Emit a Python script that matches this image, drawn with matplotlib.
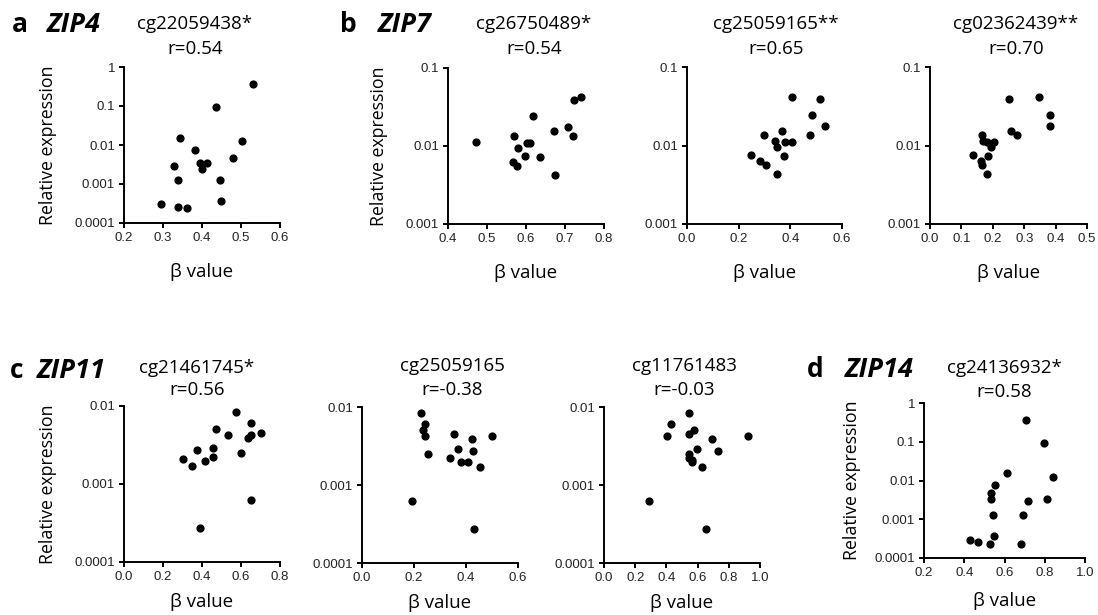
import matplotlib
matplotlib.use("Agg")
import matplotlib.pyplot as plt
from matplotlib.ticker import NullLocator

W, H = 1098, 615
TXT = ['Open Sans', 'DejaVu Sans']
TICK = ['Liberation Sans', 'DejaVu Sans']

# a  ZIP4  cg22059438*
zip4_beta = [0.531, 0.436, 0.344, 0.503, 0.382, 0.480, 0.329, 0.394,
             0.412, 0.400, 0.339, 0.447, 0.449, 0.296, 0.339, 0.362]
zip4_expr = [0.37, 0.092, 0.015, 0.0124, 0.0076, 0.0047, 0.0029, 0.0034,
             0.0034, 0.0024, 0.00126, 0.00126, 0.00037, 0.0003, 0.00026, 0.00024]

# b  ZIP7  cg26750489*
zip7a_beta = [0.472, 0.568, 0.580, 0.566, 0.576, 0.597, 0.602, 0.609,
              0.617, 0.635, 0.671, 0.674, 0.708, 0.721, 0.723, 0.742]
zip7a_expr = [0.0113, 0.0136, 0.0095, 0.0063, 0.0056, 0.0074, 0.011, 0.011,
              0.024, 0.0073, 0.0155, 0.0043, 0.0176, 0.0135, 0.039, 0.042]

# b  ZIP7  cg25059165**
zip7b_beta = [0.247, 0.284, 0.305, 0.299, 0.340, 0.349, 0.349, 0.366,
              0.376, 0.380, 0.407, 0.405, 0.476, 0.484, 0.516, 0.535]
zip7b_expr = [0.0075, 0.0063, 0.0056, 0.0136, 0.0115, 0.0095, 0.0043, 0.0155,
              0.0073, 0.011, 0.011, 0.042, 0.0135, 0.0243, 0.039, 0.0176]

# b  ZIP7  cg02362439**
zip7c_beta = [0.136, 0.165, 0.168, 0.181, 0.194, 0.203, 0.162, 0.167,
              0.186, 0.183, 0.253, 0.259, 0.276, 0.347, 0.383, 0.381]
zip7c_expr = [0.0075, 0.0136, 0.0115, 0.011, 0.0095, 0.011, 0.0063, 0.0056,
              0.0073, 0.0043, 0.039, 0.0155, 0.0135, 0.042, 0.0243, 0.0176]

# c  ZIP11  cg21461745*
zip11a_beta = [0.572, 0.651, 0.702, 0.651, 0.637, 0.531, 0.471, 0.454,
               0.457, 0.416, 0.373, 0.300, 0.349, 0.600, 0.649, 0.389]
zip11a_expr = [0.0083, 0.0061, 0.0045, 0.0043, 0.0039, 0.0043, 0.0050, 0.0029,
               0.0022, 0.0020, 0.0027, 0.0021, 0.0017, 0.0025, 0.00062, 0.00027]

# c  ZIP11  cg25059165
zip11b_beta = [0.225, 0.243, 0.235, 0.243, 0.255, 0.352, 0.423, 0.500,
               0.368, 0.427, 0.339, 0.380, 0.406, 0.452, 0.193, 0.430]
zip11b_expr = [0.0083, 0.0061, 0.0050, 0.0043, 0.0025, 0.0045, 0.0039, 0.0043,
               0.0029, 0.0027, 0.0022, 0.0020, 0.0020, 0.0017, 0.00062, 0.00027]

# c  ZIP11  cg11761483
zip11c_beta = [0.548, 0.428, 0.405, 0.546, 0.576, 0.694, 0.921, 0.593,
               0.730, 0.542, 0.546, 0.561, 0.567, 0.625, 0.291, 0.651]
zip11c_expr = [0.0083, 0.0061, 0.0043, 0.0045, 0.0050, 0.0039, 0.0043, 0.0029,
               0.0027, 0.0025, 0.0022, 0.0021, 0.0020, 0.0017, 0.00062, 0.00027]

# d  ZIP14  cg24136932*
zip14_beta = [0.705, 0.798, 0.611, 0.841, 0.554, 0.531, 0.531, 0.811,
              0.717, 0.541, 0.693, 0.429, 0.470, 0.549, 0.528, 0.680]
zip14_expr = [0.37, 0.094, 0.0155, 0.0125, 0.0077, 0.0048, 0.0034, 0.0034,
              0.0029, 0.00125, 0.00125, 0.0003, 0.00026, 0.00036, 0.00023, 0.00023]

y4 = [0.0001, 0.001, 0.01, 0.1, 1]
y4_lab = ['0.0001', '0.001', '0.01', '0.1', '1']
y2b = [0.001, 0.01, 0.1]
y2b_lab = ['0.001', '0.01', '0.1']
y2c = [0.0001, 0.001, 0.01]
y2c_lab = ['0.0001', '0.001', '0.01']

fig = plt.figure(figsize=(W / 100, H / 100), dpi=100)


def px(x, y):
    return x / W, 1 - y / H


def panel(box, beta, expr, xticks, yticks, ylabs, ylab_x=None, xlab_y=-0.256):
    x0, y0, x1, y1 = box
    ax = fig.add_axes([x0 / W, 1 - y1 / H, (x1 - x0) / W, (y1 - y0) / H])
    ax.scatter(beta, expr, s=24, color='black', zorder=3, clip_on=False)
    ax.set_yscale('log')
    ax.set_xlim(xticks[0], xticks[-1])
    ax.set_ylim(yticks[0], yticks[-1])
    ax.set_xticks(xticks)
    ax.set_xticklabels([f'{t:.1f}' for t in xticks], family=TICK, fontsize=9.5, color='#222222')
    ax.set_yticks(yticks)
    ax.set_yticklabels(ylabs, family=TICK, fontsize=9.5, color='#222222')
    ax.yaxis.set_minor_locator(NullLocator())
    for s in ['top', 'right']:
        ax.spines[s].set_visible(False)
    for s in ['left', 'bottom']:
        ax.spines[s].set_linewidth(1.4)
    ax.tick_params(width=1.4, length=3.5, pad=3)
    ax.set_xlabel('β value', family=TXT, fontsize=13.5)
    ax.xaxis.set_label_coords(0.5, xlab_y)
    if ylab_x is not None:
        ax.set_ylabel('Relative expression', family=TXT, fontsize=12.8)
        ax.yaxis.set_label_coords(ylab_x, 0.5)
    return ax


panel((124, 67, 280, 223), zip4_beta, zip4_expr, [0.2, 0.3, 0.4, 0.5, 0.6], y4, y4_lab, -0.43)
panel((448, 68, 604, 224), zip7a_beta, zip7a_expr, [0.4, 0.5, 0.6, 0.7, 0.8], y2b, y2b_lab, -0.385)
panel((687, 67, 842, 224), zip7b_beta, zip7b_expr, [0.0, 0.2, 0.4, 0.6], y2b, y2b_lab)
panel((930, 67, 1087, 224), zip7c_beta, zip7c_expr, [0.0, 0.1, 0.2, 0.3, 0.4, 0.5], y2b, y2b_lab)
panel((124, 406, 280, 562), zip11a_beta, zip11a_expr, [0.0, 0.2, 0.4, 0.6, 0.8], y2c, y2c_lab, -0.43, -0.2)
panel((362, 407, 518, 563), zip11b_beta, zip11b_expr, [0.0, 0.2, 0.4, 0.6], y2c, y2c_lab, None, -0.2)
panel((604, 407, 760, 563), zip11c_beta, zip11c_expr, [0.0, 0.2, 0.4, 0.6, 0.8, 1.0], y2c, y2c_lab, None, -0.2)
panel((924, 403, 1085, 558), zip14_beta, zip14_expr, [0.2, 0.4, 0.6, 0.8, 1.0], y4, y4_lab, -0.39, -0.22)

# panel letters and gene names
heads = [('a', 'ZIP4', 12, 47, 32), ('b', 'ZIP7', 340, 378, 32),
         ('c', 'ZIP11', 10, 37, 378), ('d', 'ZIP14', 807, 845, 377)]
for letter, gene, lx, gx, by in heads:
    fig.text(*px(lx, by), letter, family=TXT, fontsize=19, fontweight='bold', va='baseline')
    fig.text(*px(gx, by), gene, family=TXT, fontsize=19.5, fontweight='bold',
             style='italic', va='baseline')

# probe titles with correlation
titles = [('cg22059438*', 'r=0.54', 195, 29, 54), ('cg26750489*', 'r=0.54', 534, 29, 54),
          ('cg25059165**', 'r=0.65', 776, 29, 54), ('cg02362439**', 'r=0.70', 1016, 29, 54),
          ('cg21461745*', 'r=0.56', 197, 373, 395), ('cg25059165', 'r=-0.38', 452, 371, 395),
          ('cg11761483', 'r=-0.03', 684, 371, 395), ('cg24136932*', 'r=0.58', 1004, 373, 397)]
for probe, r, cx, y1, y2 in titles:
    fig.text(*px(cx, y1), probe, family=TXT, fontsize=13.5, ha='center', va='baseline')
    fig.text(*px(cx, y2), r, family=TXT, fontsize=13.5, ha='center', va='baseline')

fig.savefig('out.png', dpi=100)
